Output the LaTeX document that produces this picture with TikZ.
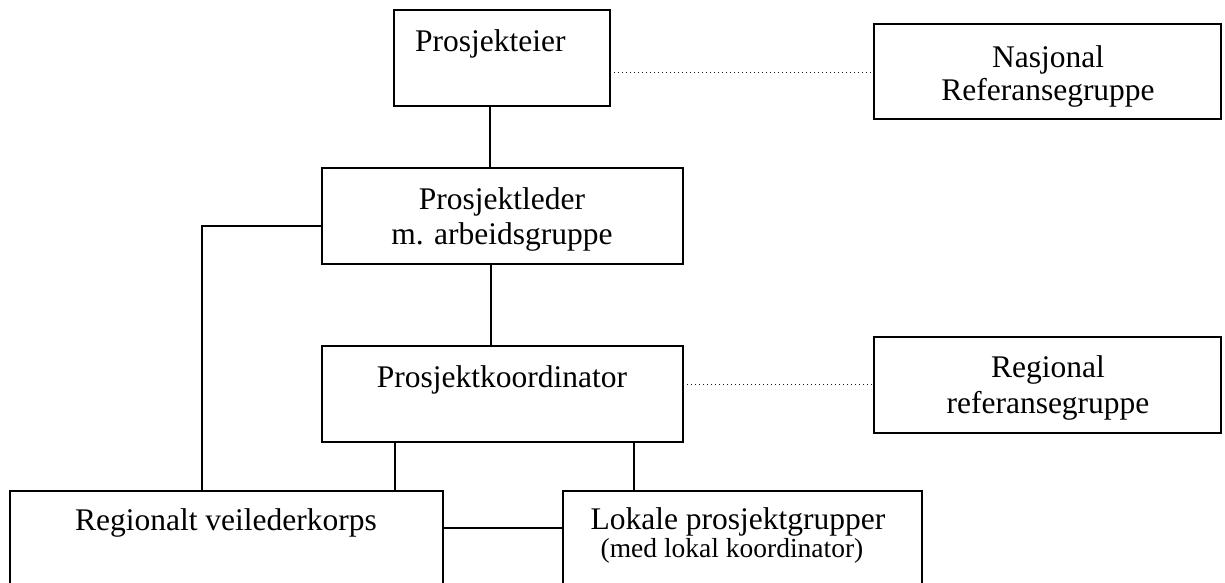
\documentclass[tikz,border=0pt]{standalone}
\usepackage{fontspec}
\setmainfont{Liberation Serif}
\begin{document}
\begin{tikzpicture}[x=1pt,y=-1pt,
  box/.style={draw,line width=1.6pt,inner sep=0pt,outer sep=0pt,rectangle},
  txt/.style={anchor=base,inner sep=0pt,font=\fontsize{31.5}{36}\selectfont},
  smalltxt/.style={anchor=base,inner sep=0pt,font=\fontsize{27.5}{32}\selectfont},
  link/.style={line width=1.4pt},
  dotlink/.style={line width=1pt,black!90,dash pattern=on 1pt off 3pt}]
\useasboundingbox (0,0) rectangle (1225,582);
\clip (0,0) rectangle (1225,582);
\fill[white] (0,0) rectangle (1225,582);
% boxes
\node[box,minimum width=216pt,minimum height=96pt] (pe) at (502,58) {};
\node[box,minimum width=347pt,minimum height=95pt] (nr) at (1047.5,71.5) {};
\node[box,minimum width=361pt,minimum height=96pt] (pl) at (502.5,216) {};
\node[box,minimum width=361pt,minimum height=96pt] (pk) at (502.5,394) {};
\node[box,minimum width=347pt,minimum height=96pt] (rr) at (1047.5,385) {};
\node[box,minimum width=433pt,minimum height=119pt] (rv) at (226.5,550.5) {};
\node[box,minimum width=359pt,minimum height=119pt] (lp) at (742.5,550.5) {};
% texts
\node[txt,anchor=base west] (pet) at (415,51) {Prosjekteier};
\node[txt] (nrt1) at (1048,67) {Nasjonal};
\node[txt] (nrt2) at (1048,100) {Referansegruppe};
\node[txt] (plt1) at (502,209) {Prosjektleder};
\node[txt] (plt2) at (502,244) {m. arbeidsgruppe};
\node[txt] (pkt) at (502,387) {Prosjektkoordinator};
\node[txt] (rrt1) at (1048,377) {Regional};
\node[txt] (rrt2) at (1048,413) {referansegruppe};
\node[txt] (rvt) at (226,530) {Regionalt veilederkorps};
\node[txt] (lpt1) at (738,529) {Lokale prosjektgrupper};
\node[smalltxt] (lpt2) at (732,557) {(med lokal koordinator)};
% connectors
\coordinate (c1) at ([xshift=-12pt]pe.south);
\draw[link] (c1) -- (c1 |- pl.north);
\coordinate (c2) at ([xshift=-11.5pt]pl.south);
\draw[link] (c2) -- (c2 |- pk.north);
\coordinate (c3) at ([yshift=-62pt]pe.north east);
\draw[dotlink] (c3) -- (c3 -| nr.west);
\coordinate (c4) at ([yshift=-38pt]pk.north east);
\draw[dotlink] (c4) -- (c4 -| rr.west);
\coordinate (c5) at ([yshift=-58pt]pl.north west);
\coordinate (c6) at (202,0);
\draw[link] (c5) -| (c6 |- rv.north);
\coordinate (c7) at (395,0);
\draw[link] (c7 |- pk.south) -- (c7 |- rv.north);
\coordinate (c8) at (634,0);
\draw[link] (c8 |- pk.south) -- (c8 |- lp.north);
\coordinate (c9) at ([yshift=-37pt]rv.north east);
\draw[link] (c9) -- (c9 -| lp.west);
\end{tikzpicture}
\end{document}
